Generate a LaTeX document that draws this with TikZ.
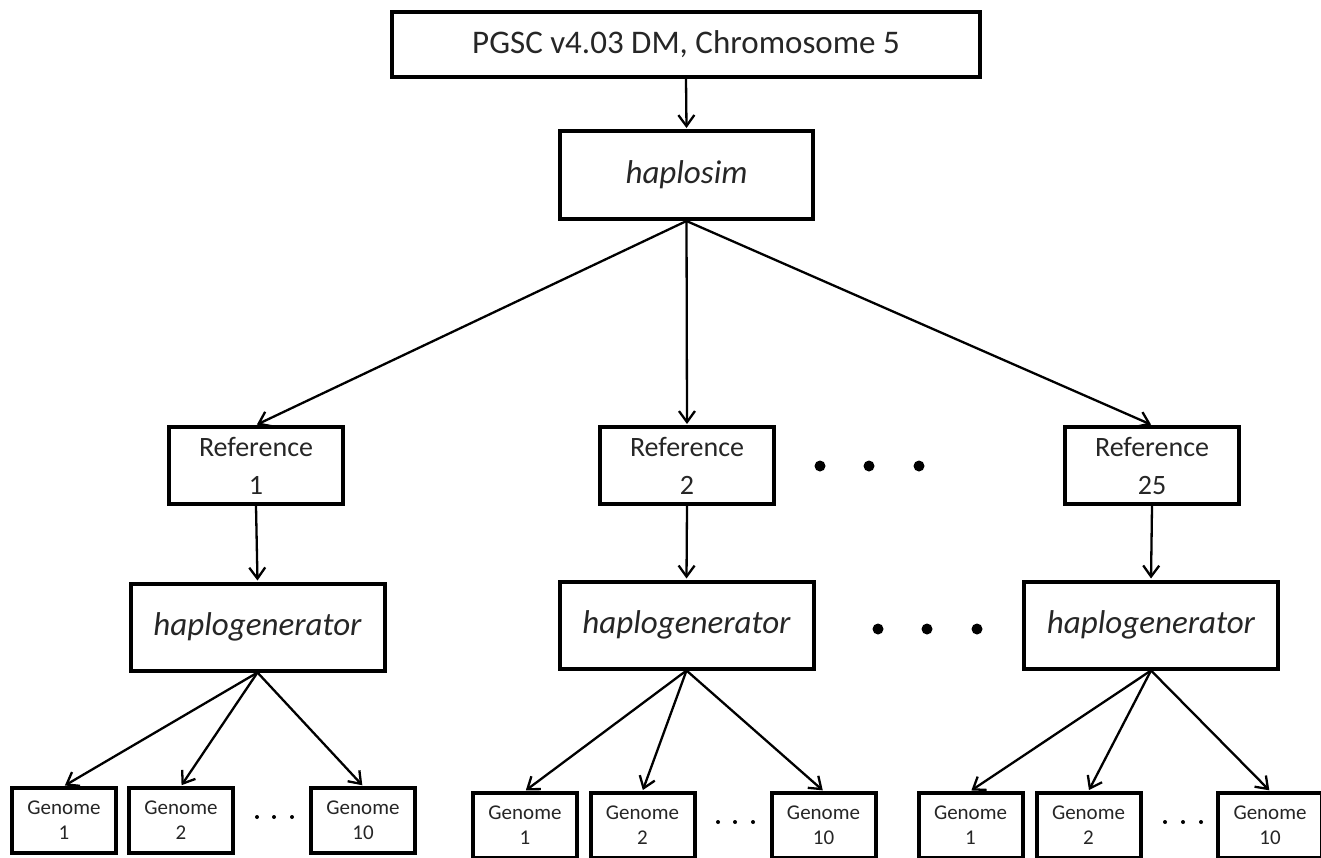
\documentclass[tikz,border=0pt]{standalone}
\usepackage{fontspec}
\setmainfont{Carlito}
\usetikzlibrary{arrows.meta}
\tikzset{
  box/.style={draw=black, line width=4pt, rectangle, inner sep=0pt, fill=white, align=center, text=black!85},
  conn/.style={line width=2.3pt, shorten >=1pt, -{Straight Barb[length=11pt,width=16pt,line width=2.3pt]}},
  bigdot/.style={fill=black, circle, inner sep=0pt, minimum size=11pt},
  smalldot/.style={fill=black, circle, inner sep=0pt, minimum size=4pt},
  topfont/.style={font=\fontsize{33}{40}\selectfont},
  hgfont/.style={font=\fontsize{33}{40}\selectfont\itshape},
  reffont/.style={font=\fontsize{28}{38}\selectfont},
  genfont/.style={font=\fontsize{21}{25}\selectfont},
  refbox/.style={box, reffont, minimum width=174pt, minimum height=77pt},
  hgbox/.style={box, hgfont, minimum width=254pt, minimum height=87pt},
  genbox/.style={box, genfont, minimum width=104pt, minimum height=65pt},
}
\begin{document}
\begin{tikzpicture}[x=1pt, y=-1pt]
\useasboundingbox (0,0) rectangle (1321,857);
\fill[white] (0,0) rectangle (1321,857);

\node[box, topfont, minimum width=588pt, minimum height=65pt] (top) at (686,44.5) {PGSC v4.03 DM, Chromosome 5};
\node[box, hgfont, minimum width=253pt, minimum height=88pt] (hs) at (686.5,175) {haplosim};

\node[refbox] (r1) at (256,465.5) {Reference\\1};
\node[refbox] (r2) at (687,465.5) {Reference\\2};
\node[refbox] (r25) at (1152,465.5) {Reference\\25};

\node[hgbox] (h1) at (257.5,627) {haplogenerator};
\node[hgbox] (h2) at (686.5,625) {haplogenerator};
\node[hgbox] (h3) at (1151,625) {haplogenerator};

\node[genbox] (g11) at (64,820.5) {Genome\\1};
\node[genbox] (g12) at (181,820.5) {Genome\\2};
\node[genbox] (g110) at (363,820.5) {Genome\\10};

\node[genbox] (g21) at (525,825.5) {Genome\\1};
\node[genbox] (g22) at (642.5,825.5) {Genome\\2};
\node[genbox] (g210) at (823.5,825.5) {Genome\\10};

\node[genbox] (g31) at (970.5,825.5) {Genome\\1};
\node[genbox] (g32) at (1088.5,825.5) {Genome\\2};
\node[genbox] (g310) at (1270,825.5) {Genome\\10};

% dots
\node[bigdot] (d1) at (820,466) {};
\node[bigdot] (d2) at (869,466) {};
\node[bigdot] (d3) at (919,466) {};
\node[bigdot] (e1) at (878,629) {};
\node[bigdot] (e2) at (927,629) {};
\node[bigdot] (e3) at (977,629) {};

\node[smalldot] (s11) at (257,817) {};
\node[smalldot] (s12) at (274,817) {};
\node[smalldot] (s13) at (292,817) {};
\node[smalldot] (s21) at (718,822) {};
\node[smalldot] (s22) at (735,822) {};
\node[smalldot] (s23) at (753,822) {};
\node[smalldot] (s31) at (1165,822) {};
\node[smalldot] (s32) at (1183,822) {};
\node[smalldot] (s33) at (1201,822) {};

% connectors
\draw[conn] (top.south) -- (hs.north);
\draw[conn] (hs.south) -- (r1.north);
\draw[conn] (hs.south) -- (r2.north);
\draw[conn] (hs.south) -- (r25.north);
\draw[conn] (r1.south) -- (h1.north);
\draw[conn] (r2.south) -- (h2.north);
\draw[conn] (r25.south) -- (h3.north);
\draw[conn] (h1.south) -- (g11.north);
\draw[conn] (h1.south) -- (g12.north);
\draw[conn] (h1.south) -- (g110.north);
\draw[conn] (h2.south) -- (g21.north);
\draw[conn] (h2.south) -- (g22.north);
\draw[conn] (h2.south) -- (g210.north);
\draw[conn] (h3.south) -- (g31.north);
\draw[conn] (h3.south) -- (g32.north);
\draw[conn] (h3.south) -- (g310.north);
\end{tikzpicture}
\end{document}
